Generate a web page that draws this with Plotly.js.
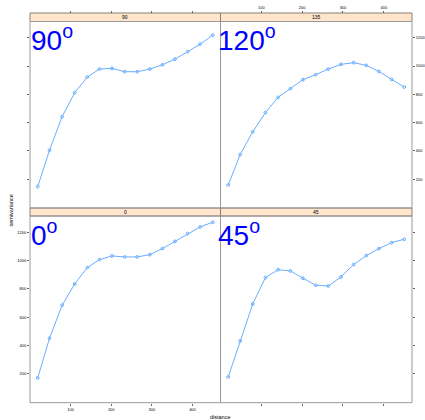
<!DOCTYPE html>
<html>
<head>
<meta charset="utf-8">
<script src="https://cdn.plot.ly/plotly-3.0.1.min.js"></script>
<style>html,body{margin:0;padding:0;background:#fff}#chart{width:425px;height:420px}</style>
</head>
<body>
<div id="chart"></div>
<script>
// ---- data ----
var distance = [19, 48, 79, 110, 141, 171, 202, 233, 264, 295, 326, 357, 388, 419, 450];
var semi90  = [148, 405, 642, 812, 922, 979, 984, 960, 960, 979, 1009, 1049, 1101, 1155, 1219];
var semi135 = [160, 374, 536, 671, 779, 840, 904, 939, 979, 1012, 1024, 1005, 962, 906, 852];
var semi0   = [172, 452, 685, 835, 951, 1007, 1033, 1026, 1026, 1042, 1085, 1136, 1191, 1238, 1271];
var semi45  = [179, 433, 694, 880, 936, 927, 875, 826, 821, 885, 972, 1035, 1085, 1127, 1151];
var stripLabels = ["0", "45", "90", "135"];
var bigNums = ["0", "45", "90", "120"];
var xTicks = [100, 200, 300, 400];
var yTicks = [200, 400, 600, 800, 1000, 1200];

// ---- geometry (pixels of the 425x420 page) ----
var W = 425, H = 420;
function px(x) { return x / W; }
function py(y) { return 1 - y / H; }
var colL = [30, 220.5], colR = [220.5, 412];
var topPlot = [21.5, 208], topStrip = [13, 21.5];
var botPlot = [216, 402.7], botStrip = [208, 216];

var lineCol = '#6aaeff';
function tr(y, xa, ya) {
  return {x: distance, y: y, xaxis: xa, yaxis: ya, type: 'scatter', mode: 'lines+markers',
    line: {color: lineCol, width: 1},
    marker: {symbol: 'circle-open', size: 2.8, color: lineCol, line: {width: 1}},
    hoverinfo: 'none', showlegend: false};
}
var data = [
  tr(semi0, 'x', 'y'),
  tr(semi45, 'x2', 'y2'),
  tr(semi90, 'x3', 'y3'),
  tr(semi135, 'x4', 'y4')
];

var FF = 'Liberation Sans, Arial, sans-serif';
var tickFont = {family: FF, size: 4, color: '#000'};
var xRange = [0, 469], yRange = [-3, 1315];
function xa(dom, extra) {
  var a = {domain: [px(dom[0]), px(dom[1])], range: xRange, tickvals: xTicks, ticks: 'outside',
    ticklen: 2, tickcolor: '#666', tickwidth: 1, showgrid: false, zeroline: false, showline: false,
    tickfont: tickFont, ticklabelstandoff: 0, fixedrange: true};
  for (var k in extra) a[k] = extra[k];
  return a;
}
function ya(dom, extra) {
  var a = {domain: [py(dom[1]), py(dom[0])], range: yRange, tickvals: yTicks, ticks: 'outside',
    ticklen: 2, tickcolor: '#666', tickwidth: 1, showgrid: false, zeroline: false, showline: false,
    tickfont: tickFont, ticklabelstandoff: 0, fixedrange: true};
  for (var k in extra) a[k] = extra[k];
  return a;
}

var shapes = [];
var annotations = [];
var panels = [
  {col: colL, plot: botPlot, strip: botStrip},
  {col: colR, plot: botPlot, strip: botStrip},
  {col: colL, plot: topPlot, strip: topStrip},
  {col: colR, plot: topPlot, strip: topStrip}
];
panels.forEach(function (p, i) {
  shapes.push({type: 'rect', xref: 'paper', yref: 'paper', x0: px(p.col[0]), x1: px(p.col[1]),
    y0: py(p.strip[1]), y1: py(p.strip[0]), fillcolor: '#ffe5cc', line: {color: '#8a7f74', width: 1}, layer: 'below'});
  shapes.push({type: 'rect', xref: 'paper', yref: 'paper', x0: px(p.col[0]), x1: px(p.col[1]),
    y0: py(p.plot[1]), y1: py(p.plot[0]), line: {color: '#9a9a9a', width: 1}, layer: 'above'});
  annotations.push({xref: 'paper', yref: 'paper', x: px((p.col[0] + p.col[1]) / 2), y: py((p.strip[0] + p.strip[1]) / 2),
    text: stripLabels[i], showarrow: false, xanchor: 'center', yanchor: 'middle',
    font: {family: FF, size: 5, color: '#000'}});
  var tx = (p.col === colL) ? 29 : 215.5;
  annotations.push({xref: 'paper', yref: 'paper', x: px(tx), y: py(p.plot[0] - 3), text: bigNums[i] + '<sup>o</sup>',
    showarrow: false, xanchor: 'left', yanchor: 'top',
    font: {family: FF, size: 28, color: '#0000ff'}});
});
annotations.push({xref: 'paper', yref: 'paper', x: px(220.5), y: py(416.5), text: 'distance', showarrow: false,
  xanchor: 'center', yanchor: 'middle', font: {family: FF, size: 5.5, color: '#000'}});
annotations.push({xref: 'paper', yref: 'paper', x: px(10.5), y: py(211), text: 'semivariance', showarrow: false,
  textangle: -90, xanchor: 'center', yanchor: 'middle', font: {family: FF, size: 5.5, color: '#000'}});

var layout = {
  width: W, height: H,
  margin: {l: 0, r: 0, t: 0, b: 0, pad: 0},
  paper_bgcolor: '#fff', plot_bgcolor: 'rgba(0,0,0,0)',
  showlegend: false,
  xaxis: xa(colL, {anchor: 'y', side: 'bottom'}),
  yaxis: ya(botPlot, {anchor: 'x', side: 'left'}),
  xaxis2: xa(colR, {anchor: 'y2', side: 'bottom', showticklabels: false}),
  yaxis2: ya(botPlot, {anchor: 'x2', side: 'right', showticklabels: false}),
  xaxis3: xa(colL, {anchor: 'free', position: py(topStrip[0]), side: 'top', showticklabels: false}),
  yaxis3: ya(topPlot, {anchor: 'x3', side: 'left', showticklabels: false}),
  xaxis4: xa(colR, {anchor: 'free', position: py(topStrip[0]), side: 'top'}),
  yaxis4: ya(topPlot, {anchor: 'x4', side: 'right'}),
  shapes: shapes,
  annotations: annotations
};
Plotly.newPlot('chart', data, layout, {staticPlot: true, displayModeBar: false});
</script>
</body>
</html>
